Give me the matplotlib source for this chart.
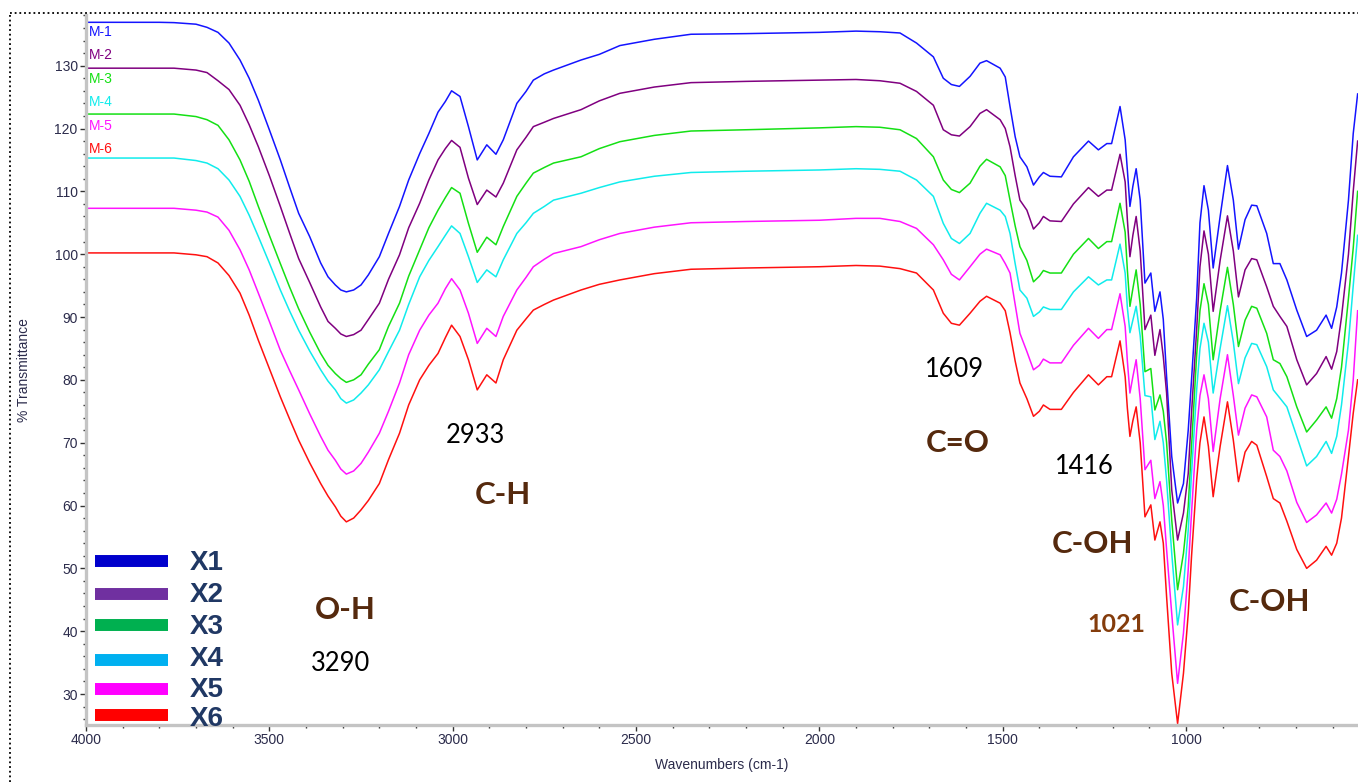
import matplotlib.pyplot as plt
from matplotlib.lines import Line2D
from matplotlib.ticker import MultipleLocator

# FTIR spectra (wavenumber in cm-1, % transmittance)
wavenumber = [4000, 3800, 3760, 3700, 3670, 3640, 3610, 3580, 3555, 3530,
              3500, 3470, 3445, 3420, 3390, 3360, 3340, 3320, 3305, 3290,
              3270, 3250, 3230, 3200, 3175, 3145, 3120, 3090, 3065, 3040,
              3020, 3003, 2980, 2957, 2933, 2907, 2882, 2862, 2825, 2800,
              2780, 2750, 2725, 2650, 2600, 2544, 2450, 2350, 2200,
              2000, 1900, 1835, 1780, 1735, 1689, 1662, 1640, 1618, 1589, 1562, 1544, 1507, 1493,
              1480, 1466, 1453, 1434, 1416, 1400, 1389, 1371, 1340, 1307, 1266, 1239, 1216, 1203, 1180,
              1166, 1160, 1153, 1145, 1136, 1125, 1112, 1096, 1085, 1071, 1062, 1053, 1039, 1023, 1007,
              994, 985, 971, 962, 951, 939, 926, 907, 887, 871, 857, 839, 821, 807, 780,
              762, 744, 725, 698, 671, 644, 618, 603, 589, 576, 557, 544, 532]

m1 = [136.9, 136.9, 136.85, 136.6, 136.1, 135.3, 133.6, 130.9, 128.0, 124.5,
      119.8, 115.0, 110.7, 106.5, 102.8, 98.6, 96.4, 95.1, 94.3, 94.0,
      94.3, 95.1, 96.7, 99.6, 103.3, 107.6, 111.8, 116.0, 119.2, 122.6,
      124.3, 126.0, 125.1, 120.3, 115.0, 117.4, 115.9, 118.2, 124.0, 125.9,
      127.7, 128.7, 129.3, 130.9, 131.8, 133.2, 134.2, 135.0, 135.1,
      135.3, 135.5, 135.4, 135.2, 133.6, 131.4, 128.0, 127.0, 126.7, 128.3, 130.4, 130.8, 129.6, 128.2,
      123.5, 118.7, 115.5, 113.9, 111.0, 112.3, 113.0, 112.4, 112.3, 115.5, 118.0, 116.6, 117.6, 117.6, 123.5,
      118.2, 113.4, 107.6, 110.8, 113.6, 108.6, 95.4, 97.0, 90.9, 94.0, 89.6, 80.5, 67.8, 60.4, 63.5,
      72.0, 80.0, 93.0, 105.0, 110.9, 107.0, 97.8, 106.0, 114.1, 108.6, 100.8, 105.5, 107.8, 107.7, 103.3,
      98.5, 98.5, 95.9, 91.1, 86.9, 87.9, 90.3, 88.2, 91.6, 97.0, 108.6, 119.2, 125.5]

m2 = [129.6, 129.6, 129.6, 129.3, 128.9, 127.6, 126.2, 123.7, 120.6, 117.1,
      112.5, 107.6, 103.4, 99.3, 95.5, 91.6, 89.3, 88.2, 87.3, 86.9,
      87.2, 87.9, 89.6, 92.2, 96.0, 99.9, 104.2, 108.1, 111.8, 115.0,
      116.8, 118.1, 117.0, 112.1, 107.9, 110.2, 109.1, 111.3, 116.6, 118.6,
      120.3, 121.0, 121.6, 123.0, 124.4, 125.6, 126.6, 127.3, 127.5,
      127.7, 127.8, 127.6, 127.2, 125.9, 123.7, 119.8, 119.0, 118.8, 120.3, 122.4, 123.0, 121.4, 120.0,
      117.1, 112.5, 108.6, 107.0, 104.0, 105.0, 106.0, 105.3, 105.2, 108.0, 110.6, 109.2, 110.2, 110.2, 115.9,
      111.5, 105.5, 99.6, 103.0, 106.0, 100.5, 88.0, 90.3, 83.9, 88.0, 83.7, 77.9, 62.5, 54.5, 58.8,
      65.1, 74.7, 88.0, 98.0, 103.7, 100.0, 90.9, 99.0, 106.1, 100.5, 93.2, 97.5, 99.3, 99.1, 94.8,
      91.7, 90.1, 88.5, 83.2, 79.2, 81.0, 83.7, 81.7, 84.5, 90.0, 100.0, 110.0, 118.0]

m3 = [122.3, 122.3, 122.3, 121.9, 121.4, 120.5, 118.2, 115.0, 111.6, 107.6,
      103.0, 98.5, 94.8, 91.3, 87.6, 84.2, 82.3, 81.0, 80.2, 79.6,
      80.0, 80.8, 82.5, 84.8, 88.5, 92.2, 96.5, 100.7, 104.2, 107.0,
      109.0, 110.6, 109.7, 104.9, 100.3, 102.7, 101.5, 104.4, 109.2, 111.3,
      112.9, 113.8, 114.5, 115.5, 116.8, 117.9, 118.9, 119.6, 119.8,
      120.1, 120.3, 120.2, 119.8, 118.4, 115.5, 111.8, 110.3, 109.8, 111.3, 114.0, 115.1, 113.9, 112.5,
      108.6, 104.5, 101.2, 99.0, 95.6, 96.5, 97.4, 97.0, 97.0, 100.0, 102.5, 100.9, 102.0, 102.0, 108.1,
      103.5, 97.5, 91.7, 94.5, 97.5, 92.0, 81.3, 81.8, 75.2, 77.6, 75.0, 70.0, 57.7, 46.6, 52.4,
      59.8, 69.4, 84.0, 91.0, 95.3, 92.0, 83.2, 91.0, 97.9, 92.0, 85.3, 89.5, 91.7, 91.4, 87.4,
      83.2, 82.6, 80.5, 75.7, 71.7, 73.6, 75.7, 73.9, 77.0, 82.0, 93.0, 101.0, 110.0]

m4 = [115.3, 115.3, 115.3, 114.9, 114.5, 113.6, 111.8, 109.2, 106.2, 102.8,
      98.6, 94.3, 91.0, 87.9, 84.6, 81.6, 79.8, 78.4, 77.0, 76.3,
      76.8, 77.9, 79.2, 81.6, 84.5, 87.9, 92.0, 96.4, 99.0, 101.2,
      103.0, 104.5, 103.3, 99.6, 95.5, 97.5, 96.4, 99.1, 103.3, 105.0,
      106.5, 107.6, 108.6, 109.7, 110.6, 111.5, 112.4, 113.0, 113.2,
      113.4, 113.6, 113.5, 113.2, 111.8, 109.2, 104.9, 102.5, 101.7, 103.3, 106.5, 108.1, 107.0, 106.0,
      103.3, 98.5, 94.3, 93.0, 90.1, 90.8, 91.6, 91.2, 91.2, 94.0, 96.4, 95.1, 95.9, 95.9, 101.6,
      97.0, 91.5, 87.5, 89.5, 91.7, 87.0, 77.5, 77.3, 70.5, 73.4, 70.0, 64.0, 52.4, 41.0, 47.1,
      56.1, 65.1, 78.4, 85.0, 89.0, 86.0, 77.9, 85.0, 91.8, 86.0, 79.4, 83.5, 85.8, 85.6, 82.1,
      78.4, 77.1, 75.7, 71.0, 66.3, 67.8, 70.2, 68.3, 71.0, 76.0, 86.0, 95.0, 103.0]

m5 = [107.3, 107.3, 107.3, 107.0, 106.7, 105.9, 103.8, 100.7, 97.5, 93.8,
      89.3, 84.7, 81.5, 78.4, 74.6, 71.0, 68.8, 67.2, 65.8, 65.0,
      65.5, 66.7, 68.5, 71.5, 75.0, 79.5, 84.0, 87.9, 90.3, 92.2,
      94.5, 96.1, 94.3, 90.6, 85.8, 88.2, 86.9, 90.1, 94.3, 96.3,
      98.0, 99.2, 100.1, 101.2, 102.3, 103.3, 104.3, 105.0, 105.2,
      105.4, 105.7, 105.7, 105.2, 104.1, 101.5, 99.1, 96.8, 95.9, 98.0, 100.0, 100.8, 99.9, 98.5,
      97.0, 92.0, 87.4, 84.5, 81.6, 82.3, 83.3, 82.7, 82.7, 85.5, 88.2, 86.6, 88.0, 88.0, 93.7,
      88.5, 83.0, 77.9, 80.5, 83.2, 77.0, 65.7, 67.2, 61.1, 63.8, 60.0, 53.0, 42.8, 31.7, 39.7,
      49.8, 58.8, 72.0, 77.5, 80.8, 77.0, 68.6, 77.0, 84.0, 77.5, 71.2, 75.5, 77.6, 77.3, 74.1,
      68.8, 67.8, 65.5, 60.5, 57.3, 58.5, 60.4, 58.8, 61.0, 65.0, 72.0, 80.0, 91.0]

m6 = [100.2, 100.2, 100.2, 99.9, 99.6, 98.6, 96.6, 93.8, 90.3, 86.3,
      81.8, 77.3, 73.8, 70.4, 66.8, 63.5, 61.5, 59.8, 58.3, 57.4,
      58.0, 59.3, 60.8, 63.5, 67.3, 71.5, 76.0, 80.0, 82.3, 84.2,
      86.7, 88.7, 86.9, 83.2, 78.4, 80.8, 79.5, 83.2, 87.9, 89.7,
      91.1, 92.0, 92.7, 94.3, 95.2, 95.9, 96.9, 97.6, 97.8,
      98.0, 98.2, 98.1, 97.7, 97.0, 94.3, 90.6, 89.0, 88.7, 90.6, 92.5, 93.3, 92.2, 91.0,
      87.5, 83.0, 79.5, 77.0, 74.2, 75.0, 76.0, 75.3, 75.3, 78.0, 80.8, 79.2, 80.5, 80.5, 86.2,
      80.5, 75.5, 71.0, 73.5, 75.7, 70.0, 58.2, 60.1, 54.5, 57.4, 54.0, 45.5, 33.3, 25.3, 33.3,
      42.8, 51.9, 64.1, 70.0, 74.1, 69.4, 61.4, 69.4, 76.5, 70.4, 63.8, 68.5, 70.2, 69.6, 64.6,
      61.1, 60.4, 57.5, 53.0, 50.0, 51.3, 53.5, 52.1, 54.0, 58.0, 67.8, 74.7, 80.0]

series = [m1, m2, m3, m4, m5, m6]
series_names = ['M-1', 'M-2', 'M-3', 'M-4', 'M-5', 'M-6']
line_colors = ['#1414ff', '#800080', '#14e014', '#10ecec', '#ff14ff', '#ff1010']

legend_labels = ['X1', 'X2', 'X3', 'X4', 'X5', 'X6']
legend_colors = ['#0000cc', '#7030a0', '#00b050', '#00b0f0', '#ff00ff', '#ff0000']

# band annotations: (text, wavenumber, %T, style)
band_labels = [('O-H', 3294, 43.3, 'band'), ('3290', 3307, 34.8, 'num'),
               ('2933', 2939, 71.1, 'num'), ('C-H', 2863, 61.6, 'band'),
               ('1609', 1630, 81.6, 'num'), ('C=O', 1622, 70.0, 'band'),
               ('1416', 1278, 66.2, 'num'), ('C-OH', 1256, 53.9, 'band'),
               ('1021', 1191, 41.0, 'num_bold'), ('C-OH', 771, 44.7, 'band')]

tick_font = ['Liberation Sans Narrow', 'Liberation Sans', 'DejaVu Sans']
tick_color = '#2b2b4b'

fig = plt.figure(figsize=(13.58, 7.82), dpi=100)
ax = fig.add_axes([86 / 1358, 1 - 725 / 782, 1 - 86 / 1358, (725 - 15.4) / 782])

for vals, col in zip(series, line_colors):
    ax.plot(wavenumber, vals, color=col, lw=1.1)

ax.set_xlim(4000, 531)
ax.set_ylim(25.07, 138)
ax.xaxis.set_major_locator(MultipleLocator(500))
ax.xaxis.set_minor_locator(MultipleLocator(100))
ax.yaxis.set_minor_locator(MultipleLocator(2))
ax.set_yticks(range(30, 131, 10))

for side in ['top', 'right']:
    ax.spines[side].set_visible(False)
for side in ['left', 'bottom']:
    ax.spines[side].set_color('#c4c4c4')
    ax.spines[side].set_linewidth(2.4)

ax.tick_params(which='major', direction='out', length=4, width=1, color='#333333',
               labelsize=10, labelcolor=tick_color, pad=2)
ax.tick_params(which='minor', direction='out', length=2.5, width=1, color='#333333')
for lab in ax.get_xticklabels() + ax.get_yticklabels():
    lab.set_family(tick_font)

ax.set_xlabel('Wavenumbers (cm-1)', fontsize=10, family=tick_font, color=tick_color, labelpad=8)
ax.set_ylabel('% Transmittance', fontsize=10, family=tick_font, color=tick_color, labelpad=17)

# series names top-left
for i, (name, col) in enumerate(zip(series_names, line_colors)):
    ax.text(0.002, 0.9765 - i * 0.033, name, transform=ax.transAxes, color=col,
            fontsize=10, family=tick_font, va='center', ha='left')

# manual legend
bar_y = [0.2311, 0.1853, 0.1409, 0.0916, 0.0507, 0.0141]
txt_y = [0.2283, 0.1832, 0.1381, 0.0930, 0.0493, 0.0085]
for lab, col, by, ty in zip(legend_labels, legend_colors, bar_y, txt_y):
    ax.plot([0.0071, 0.0645], [by, by], transform=ax.transAxes, color=col, lw=8.6,
            solid_capstyle='butt', clip_on=False, zorder=5)
    ax.text(0.0818, ty, lab, transform=ax.transAxes, color='#203864', fontsize=20,
            fontweight='bold', family=['Liberation Sans', 'DejaVu Sans'], va='center',
            ha='left', clip_on=False, zorder=6)

for txt, wn, val, style in band_labels:
    if style == 'band':
        ax.text(wn, val, txt, color='#55290d', fontsize=22.5, fontweight='bold',
                family=['Lato', 'DejaVu Sans'], ha='center', va='center')
    elif style == 'num_bold':
        ax.text(wn, val, txt, color='#843c0c', fontsize=18, fontweight='bold',
                family=['Lato', 'DejaVu Sans'], ha='center', va='center')
    else:
        ax.text(wn, val, txt, color='black', fontsize=18.4,
                family=['Lato', 'DejaVu Sans'], ha='center', va='center')

# dotted frame around the figure (top and left edges)
fig.add_artist(Line2D([10 / 1358, 1.0], [1 - 13 / 782, 1 - 13 / 782], transform=fig.transFigure,
                      color='black', lw=1.3, ls=(0, (1, 1.6))))
fig.add_artist(Line2D([10 / 1358, 10 / 1358], [0.0, 1 - 13 / 782], transform=fig.transFigure,
                      color='black', lw=1.3, ls=(0, (1, 1.6))))

fig.savefig('out.png', dpi=100)
